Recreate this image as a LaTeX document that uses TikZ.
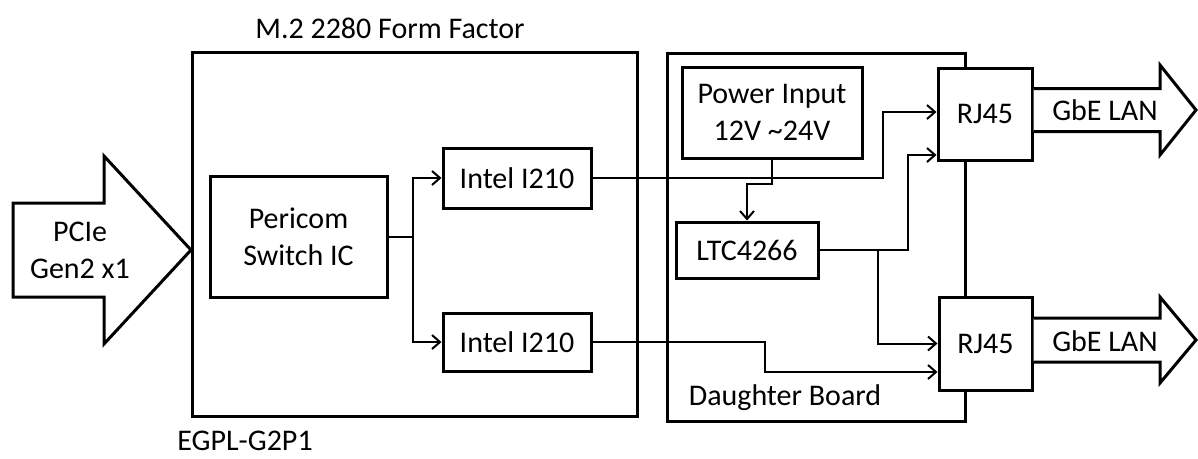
\documentclass[tikz,border=0pt]{standalone}
\usepackage{fontspec}
\setmainfont{Carlito}
\usetikzlibrary{arrows.meta}
\newcommand{\blockfont}{\fontsize{30}{37}\selectfont}

\begin{document}
\begin{tikzpicture}[x=1pt,y=-1pt]
\tikzset{
  board/.style={draw,line width=3pt,inner sep=0pt},
  block/.style={draw,fill=white,line width=3pt,inner sep=2pt,align=center,font=\blockfont},
  caption/.style={inner sep=0pt,align=center,font=\blockfont},
  conn/.style={-{Straight Barb[length=8pt,width=14pt]},line width=2pt},
  bigarrow/.style={draw,fill=white,line width=3pt,line join=miter}
}
\useasboundingbox (0,0) rectangle (1198,458);
% boards
\node[board,minimum width=445pt,minimum height=364pt] (n_m2) at (414.5,234) {};
\node[board,minimum width=298pt,minimum height=368pt] (n_db) at (816,237) {};
\node[caption] (n_m2_title) at (390,28) {M.2 2280 Form Factor};
\node[caption] (n_m2_name) at (245,441) {EGPL-G2P1};
\node[caption] (n_db_name) at (785,398) {Daughter Board};
% blocks
\node[block,minimum width=177pt,minimum height=121pt] (n_switch) at (298.5,236.5) {Pericom\\Switch IC};
\node[block,minimum width=148pt,minimum height=60pt] (n_intelA) at (517,178) {Intel I210};
\node[block,minimum width=148pt,minimum height=58pt] (n_intelB) at (517,342) {Intel I210};
\node[block,minimum width=180pt,minimum height=91pt] (n_power) at (772,112.5) {Power Input\\12V \textasciitilde24V};
\node[block,minimum width=142pt,minimum height=56pt] (n_ltc) at (747,250) {LTC4266};
\node[block,minimum width=94pt,minimum height=92pt] (n_rjA) at (985,114) {RJ45};
\node[block,minimum width=93pt,minimum height=93pt] (n_rjB) at (985.5,343.5) {RJ45};
% big arrows
\draw[bigarrow] (13,203) -- (104,203) -- (104,156) -- (191,250) -- (104,344) -- (104,297) -- (13,297) -- cycle;
\node[caption] (n_pcie) at (80,250) {PCIe\\Gen2 x1};
\draw[bigarrow] (n_rjA.east |- 0,88.5) -- (1160,88.5) -- (1160,65) -- (1196,110) -- (1160,155) -- (1160,131.5) -- (n_rjA.east |- 0,131.5);
\node[caption] (n_lanA) at (1105,110) {GbE LAN};
\draw[bigarrow] (n_rjB.east |- 0,318) -- (1160,318) -- (1160,297) -- (1196,340) -- (1160,383) -- (1160,362) -- (n_rjB.east |- 0,362);
\node[caption] (n_lanB) at (1105,341) {GbE LAN};
% connections
\coordinate (c_split) at (413,236.5);
\draw[line width=2pt] (n_switch.east) -- (c_split);
\draw[conn] (c_split) |- (n_intelA.west);
\draw[conn] (c_split) |- (n_intelB.west);
\draw[conn] (n_intelA.east) -| (883,112) -- ([yshift=2pt]n_rjA.west);
\draw[conn] (n_intelB.east) -| (765,372) -- ([yshift=-28.5pt]n_rjB.west);
\draw[conn] (n_power.south) -- ++(0,24) -| (n_ltc.north);
\draw[conn] (n_ltc.east) -| (908,155) -- ([yshift=-41pt]n_rjA.west);
\draw[conn] (n_ltc.east) -| (878,343.5) -- (n_rjB.west);
\end{tikzpicture}
\end{document}
